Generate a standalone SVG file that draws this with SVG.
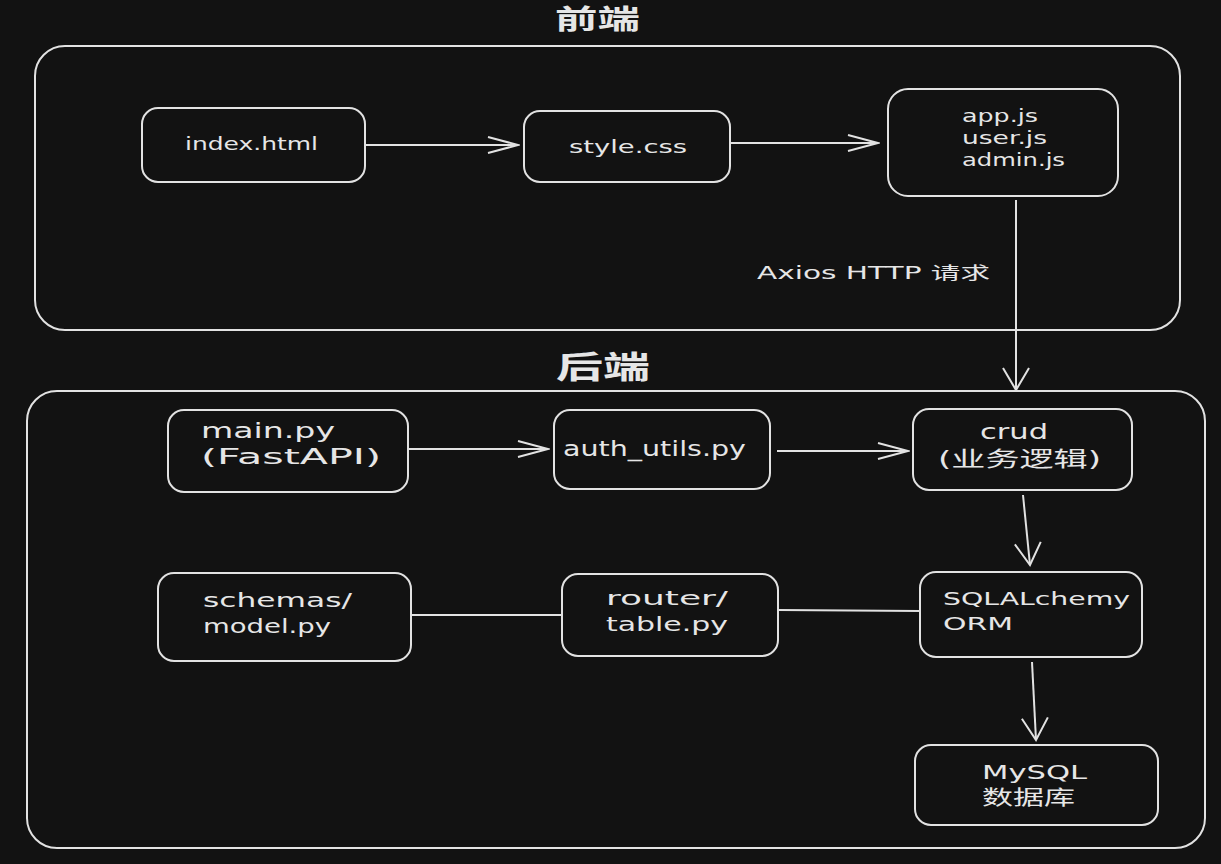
<svg xmlns="http://www.w3.org/2000/svg" width="1221" height="864" viewBox="0 0 1221 864">
<defs>
<style>
.box{fill:#121212;stroke:#e2e2e2;stroke-width:2}
.frame{fill:none;stroke:#e2e2e2;stroke-width:2}
.t{fill:#e6e6e6;font-family:"DejaVu Sans","Liberation Sans","Noto Sans CJK SC",sans-serif;font-size:18px}
.s{font-size:17px}
.b{font-size:21px}
.m{font-size:20px}
.title{fill:#e6e6e6;font-family:"DejaVu Sans","Noto Sans CJK SC",sans-serif;font-weight:bold}
.c{fill:none;stroke:#e2e2e2;stroke-width:2}
</style>
<marker id="ah" markerWidth="34" markerHeight="20" refX="32" refY="10" orient="auto" markerUnits="userSpaceOnUse">
<path d="M2,2 L32,10 L2,18" fill="none" stroke="#e2e2e2" stroke-width="2"/>
</marker>
<marker id="av" markerWidth="26" markerHeight="30" refX="24" refY="15" orient="auto" markerUnits="userSpaceOnUse">
<path d="M2,2 L24,15 L2,28" fill="none" stroke="#e2e2e2" stroke-width="2"/>
</marker>
</defs>
<rect width="1221" height="864" fill="#121212"/>
<g id="frontend">
<rect class="frame" x="35" y="46" width="1145" height="284" rx="30"/>
<text class="title" x="555" y="29" font-size="27" textLength="85" lengthAdjust="spacingAndGlyphs">前端</text>
</g>
<g id="backend">
<rect class="frame" x="27" y="391" width="1178" height="457" rx="30"/>
<text class="title" x="556" y="378" font-size="31" textLength="94" lengthAdjust="spacingAndGlyphs">后端</text>
</g>
<g id="index">
<rect class="box" x="142" y="108" width="223" height="74" rx="16"/>
<text class="t" x="185" y="150" textLength="133" lengthAdjust="spacingAndGlyphs">index.html</text>
</g>
<g id="style">
<rect class="box" x="524" y="111" width="206" height="71" rx="16"/>
<text class="t" x="569" y="153" textLength="118" lengthAdjust="spacingAndGlyphs">style.css</text>
</g>
<g id="js">
<rect class="box" x="888" y="89" width="230" height="107" rx="20"/>
<text class="t s" x="962" y="122" textLength="76" lengthAdjust="spacingAndGlyphs">app.js</text>
<text class="t s" x="962" y="144" textLength="85" lengthAdjust="spacingAndGlyphs">user.js</text>
<text class="t s" x="962" y="166" textLength="103" lengthAdjust="spacingAndGlyphs">admin.js</text>
</g>
<g id="main">
<rect class="box" x="168" y="410" width="240" height="82" rx="16"/>
<text class="t b" x="201" y="438" textLength="134" lengthAdjust="spacingAndGlyphs">main.py</text>
<text class="t b" x="201" y="464" textLength="180" lengthAdjust="spacingAndGlyphs">(FastAPI)</text>
</g>
<g id="auth">
<rect class="box" x="554" y="410" width="216" height="79" rx="16"/>
<text class="t b" x="563" y="456" textLength="183" lengthAdjust="spacingAndGlyphs">auth_utils.py</text>
</g>
<g id="crud">
<rect class="box" x="913" y="409" width="219" height="81" rx="16"/>
<text class="t b" x="980" y="439" textLength="68" lengthAdjust="spacingAndGlyphs">crud</text>
<text class="t b" x="938" y="466" textLength="163" lengthAdjust="spacingAndGlyphs">(业务逻辑)</text>
</g>
<g id="sqla">
<rect class="box" x="920" y="572" width="222" height="85" rx="16"/>
<text class="t" x="943" y="605" textLength="187" lengthAdjust="spacingAndGlyphs">SQLALchemy</text>
<text class="t" x="943" y="630" textLength="70" lengthAdjust="spacingAndGlyphs">ORM</text>
</g>
<g id="router">
<rect class="box" x="562" y="574" width="216" height="82" rx="16"/>
<text class="t m" x="606" y="605" textLength="122" lengthAdjust="spacingAndGlyphs">router/</text>
<text class="t m" x="606" y="631" textLength="122" lengthAdjust="spacingAndGlyphs">table.py</text>
</g>
<g id="schemas">
<rect class="box" x="158" y="573" width="253" height="88" rx="16"/>
<text class="t m" x="203" y="607" textLength="149" lengthAdjust="spacingAndGlyphs">schemas/</text>
<text class="t m" x="203" y="633" textLength="128" lengthAdjust="spacingAndGlyphs">model.py</text>
</g>
<g id="mysql">
<rect class="box" x="915" y="745" width="243" height="80" rx="16"/>
<text class="t m" x="982" y="779" textLength="105" lengthAdjust="spacingAndGlyphs">MySQL</text>
<text class="t m" x="982" y="805" textLength="93" lengthAdjust="spacingAndGlyphs">数据库</text>
</g>
<g id="connectors">
<line class="c" x1="365" y1="145" x2="518" y2="145" marker-end="url(#ah)"/>
<line class="c" x1="730" y1="143" x2="878" y2="143" marker-end="url(#ah)"/>
<line class="c" x1="1016" y1="200" x2="1016" y2="390" marker-end="url(#av)"/>
<text class="t s" x="757" y="279" textLength="233" lengthAdjust="spacingAndGlyphs">Axios HTTP 请求</text>
<line class="c" x1="408" y1="449" x2="548" y2="449" marker-end="url(#ah)"/>
<line class="c" x1="777" y1="451" x2="908" y2="451" marker-end="url(#ah)"/>
<line class="c" x1="1023" y1="495" x2="1030" y2="565" marker-end="url(#av)"/>
<line class="c" x1="411" y1="615" x2="562" y2="615"/>
<line class="c" x1="778" y1="610" x2="920" y2="611"/>
<line class="c" x1="1032" y1="662" x2="1036" y2="740" marker-end="url(#av)"/>
</g>
</svg>
